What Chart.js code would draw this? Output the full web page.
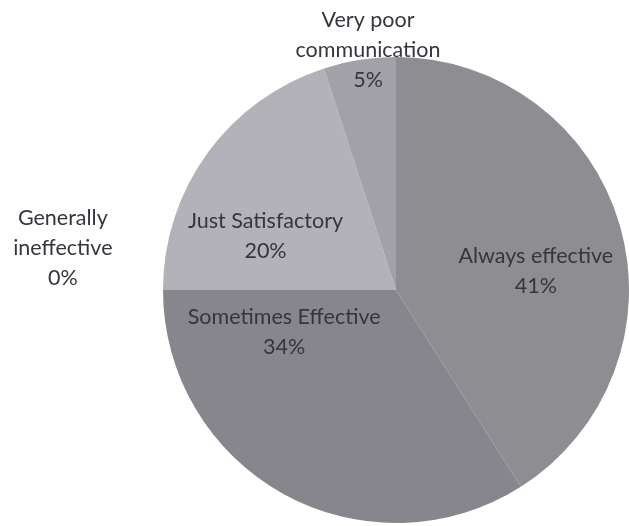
<!DOCTYPE html>
<html>
<head>
<meta charset="utf-8">
<script src="https://cdn.jsdelivr.net/npm/chart.js@4.4.0/dist/chart.umd.min.js"></script>
<style>
  html, body { margin: 0; padding: 0; background: #fff; }
  #wrap { width: 629px; height: 526px; }
</style>
</head>
<body>
<div id="wrap"><canvas id="pieChart" width="629" height="526"></canvas></div>
<script>
  // slices, clockwise from 12 o'clock
  const labels = ['Always effective', 'Sometimes Effective', 'Generally ineffective', 'Just Satisfactory', 'Very poor communication'];
  const values = [41, 34, 0, 20, 5];
  const labelLines = [
    ['Always effective'],
    ['Sometimes Effective'],
    ['Generally', 'ineffective'],
    ['Just Satisfactory'],
    ['Very poor', 'communication']
  ];
  const colors = ['#8d8d92', '#86868c', '#9a9a9a', '#b3b2b8', '#a1a1a7'];

  // label anchor relative to pie centre, in fractions of the radius
  const labelOffsets = [
    [0.60, -0.08],
    [-0.48, 0.18],
    [-1.43, -0.18],
    [-0.56, -0.23],
    [-0.12, -1.03]
  ];

  const labelPlugin = {
    id: 'sliceLabels',
    afterDatasetsDraw(chart) {
      const ctx = chart.ctx;
      const arc = chart.getDatasetMeta(0).data[0];
      const cx = arc.x, cy = arc.y, r = arc.outerRadius;
      const total = values.reduce((a, b) => a + b, 0);
      ctx.save();
      ctx.font = '21.5px Lato, "Open Sans", sans-serif';
      ctx.fillStyle = '#35353d';
      ctx.textAlign = 'center';
      ctx.textBaseline = 'middle';
      const lh = 30;
      values.forEach((v, i) => {
        const lines = labelLines[i].concat([Math.round(v / total * 100) + '%']);
        const x = cx + labelOffsets[i][0] * r;
        const y = cy + labelOffsets[i][1] * r;
        const top = y - (lines.length - 1) * lh / 2;
        lines.forEach((t, k) => ctx.fillText(t, x, top + k * lh));
      });
      ctx.restore();
    }
  };

  new Chart(document.getElementById('pieChart').getContext('2d'), {
    type: 'pie',
    data: {
      labels: labels,
      datasets: [{
        data: values,
        backgroundColor: colors,
        borderWidth: 0
      }]
    },
    options: {
      responsive: false,
      animation: false,
      layout: { padding: { left: 163, right: 0, top: 57, bottom: 3 } },
      plugins: {
        legend: { display: false },
        tooltip: { enabled: false }
      }
    },
    plugins: [labelPlugin]
  });
</script>
</body>
</html>
